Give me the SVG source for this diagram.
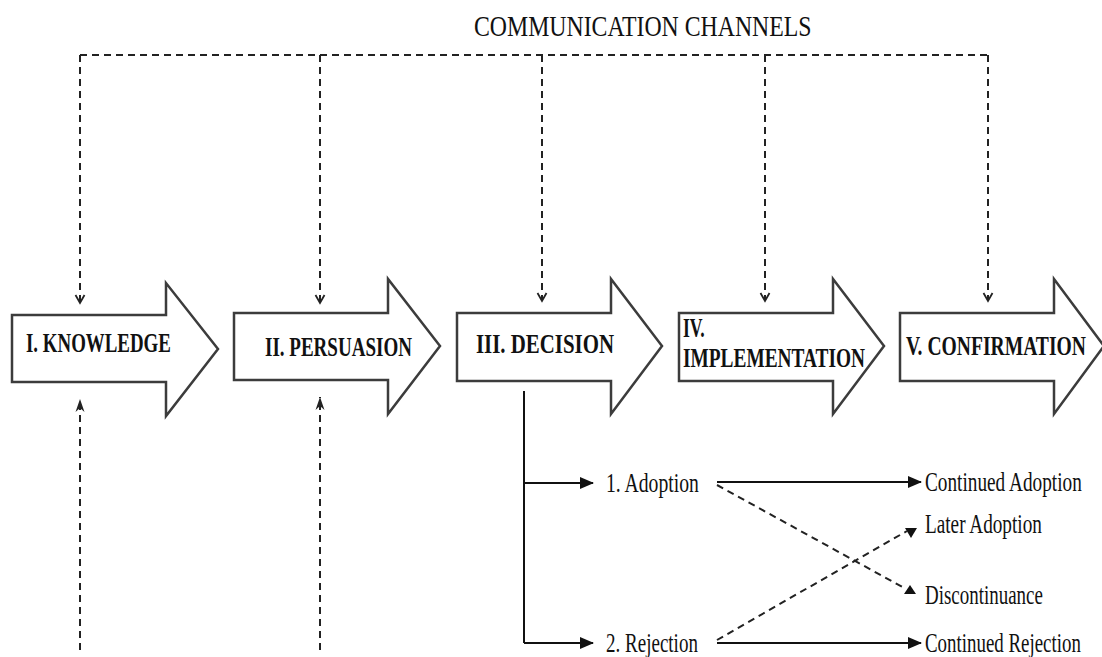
<svg xmlns="http://www.w3.org/2000/svg" width="1102" height="657" viewBox="0 0 1102 657">
  <style>
    .stage { fill: #ffffff; stroke: #3c3c3c; stroke-width: 2.5; stroke-linejoin: miter; }
    .lbl { font-family: "Liberation Serif", "Times New Roman", serif; font-weight: bold; font-size: 27px; fill: #111; }
    .txt { font-family: "Liberation Serif", "Times New Roman", serif; font-size: 27px; fill: #111; }
    .title { font-family: "Liberation Serif", "Times New Roman", serif; font-size: 30px; fill: #111; }
    .dash { fill: none; stroke: #222; stroke-width: 2; stroke-dasharray: 7 5; }
    .solid { fill: none; stroke: #111; stroke-width: 2; }
    .head { fill: #111; stroke: none; }
  </style>
  <defs>
    <marker id="chev" markerWidth="12" markerHeight="12" refX="10" refY="6" orient="auto" markerUnits="userSpaceOnUse">
      <path d="M2 1.5 L10 6 L2 10.5" fill="none" stroke="#222" stroke-width="1.8"/>
    </marker>
    <marker id="upHead" markerWidth="14" markerHeight="12" refX="13" refY="6" orient="auto" markerUnits="userSpaceOnUse">
      <path d="M0 1.5 L13 6 L0 10.5 L4 6 Z" fill="#222"/>
    </marker>
    <marker id="solidHead" markerWidth="14" markerHeight="14" refX="13" refY="7" orient="auto" markerUnits="userSpaceOnUse">
      <path d="M0 1 L14 7 L0 13 Z" fill="#111"/>
    </marker>
  </defs>

  <!-- condensed serif lettering: each label is narrowed horizontally -->
  <text class="title" transform="translate(474 36) scale(0.793 1)">COMMUNICATION CHANNELS</text>

  <g id="knowledge">
    <polygon class="stage" points="12,315 166,315 166,283 218,349 166,416 166,382 12,382"/>
    <text class="lbl" transform="translate(26 352) scale(0.70 1)">I. KNOWLEDGE</text>
  </g>
  <g id="persuasion">
    <polygon class="stage" points="234,313 388,313 388,279 440,346 388,414 388,380 234,380"/>
    <text class="lbl" transform="translate(265 356) scale(0.705 1)">II. PERSUASION</text>
  </g>
  <g id="decision">
    <polygon class="stage" points="457,313 611,313 611,279 662,346 611,414 611,381 457,381"/>
    <text class="lbl" transform="translate(476 353) scale(0.773 1)">III. DECISION</text>
  </g>
  <g id="implementation">
    <polygon class="stage" points="679,313 833,313 833,279 884,346 833,414 833,381 679,381"/>
    <text class="lbl" transform="translate(683 337) scale(0.653 1)">IV.</text>
    <text class="lbl" transform="translate(683 367) scale(0.717 1)">IMPLEMENTATION</text>
  </g>
  <g id="confirmation">
    <polygon class="stage" points="900,313 1054,313 1054,279 1104,346 1054,414 1054,381 900,381"/>
    <text class="lbl" transform="translate(906 355) scale(0.726 1)">V. CONFIRMATION</text>
  </g>

  <g id="outcomes">
    <text class="txt" transform="translate(606 492) scale(0.729 1)">1. Adoption</text>
    <text class="txt" transform="translate(606 652) scale(0.705 1)">2. Rejection</text>
    <text class="txt" transform="translate(925 491) scale(0.714 1)">Continued Adoption</text>
    <text class="txt" transform="translate(925 533) scale(0.712 1)">Later Adoption</text>
    <text class="txt" transform="translate(925 604) scale(0.702 1)">Discontinuance</text>
    <text class="txt" transform="translate(925 652) scale(0.70 1)">Continued Rejection</text>
  </g>

  <g id="connectors">
    <!-- communication channels feeding every stage -->
    <path class="dash" d="M80 55 H988"/>
    <path class="dash" d="M80 55 V303" marker-end="url(#chev)"/>
    <path class="dash" d="M320 55 V303" marker-end="url(#chev)"/>
    <path class="dash" d="M542 55 V301" marker-end="url(#chev)"/>
    <path class="dash" d="M765 55 V301" marker-end="url(#chev)"/>
    <path class="dash" d="M988 55 V301" marker-end="url(#chev)"/>

    <!-- inputs rising from below -->
    <path class="dash" d="M80 650 V399" marker-end="url(#upHead)"/>
    <path class="dash" d="M320 650 V397" marker-end="url(#upHead)"/>

    <!-- decision branches -->
    <path class="solid" d="M524 391 V643"/>
    <path class="solid" d="M524 483 H593" marker-end="url(#solidHead)"/>
    <path class="solid" d="M524 643 H593" marker-end="url(#solidHead)"/>
    <path class="solid" d="M717 482 H921" marker-end="url(#solidHead)"/>
    <path class="solid" d="M717 643 H921" marker-end="url(#solidHead)"/>

    <!-- switching paths -->
    <path class="dash" d="M717 485 L906 589"/>
    <path class="dash" d="M717 640 L907 531"/>
    <polygon class="head" points="910,585 916,594 904,594"/>
    <polygon class="head" points="905,528 917,528 911,538"/>
  </g>
</svg>
